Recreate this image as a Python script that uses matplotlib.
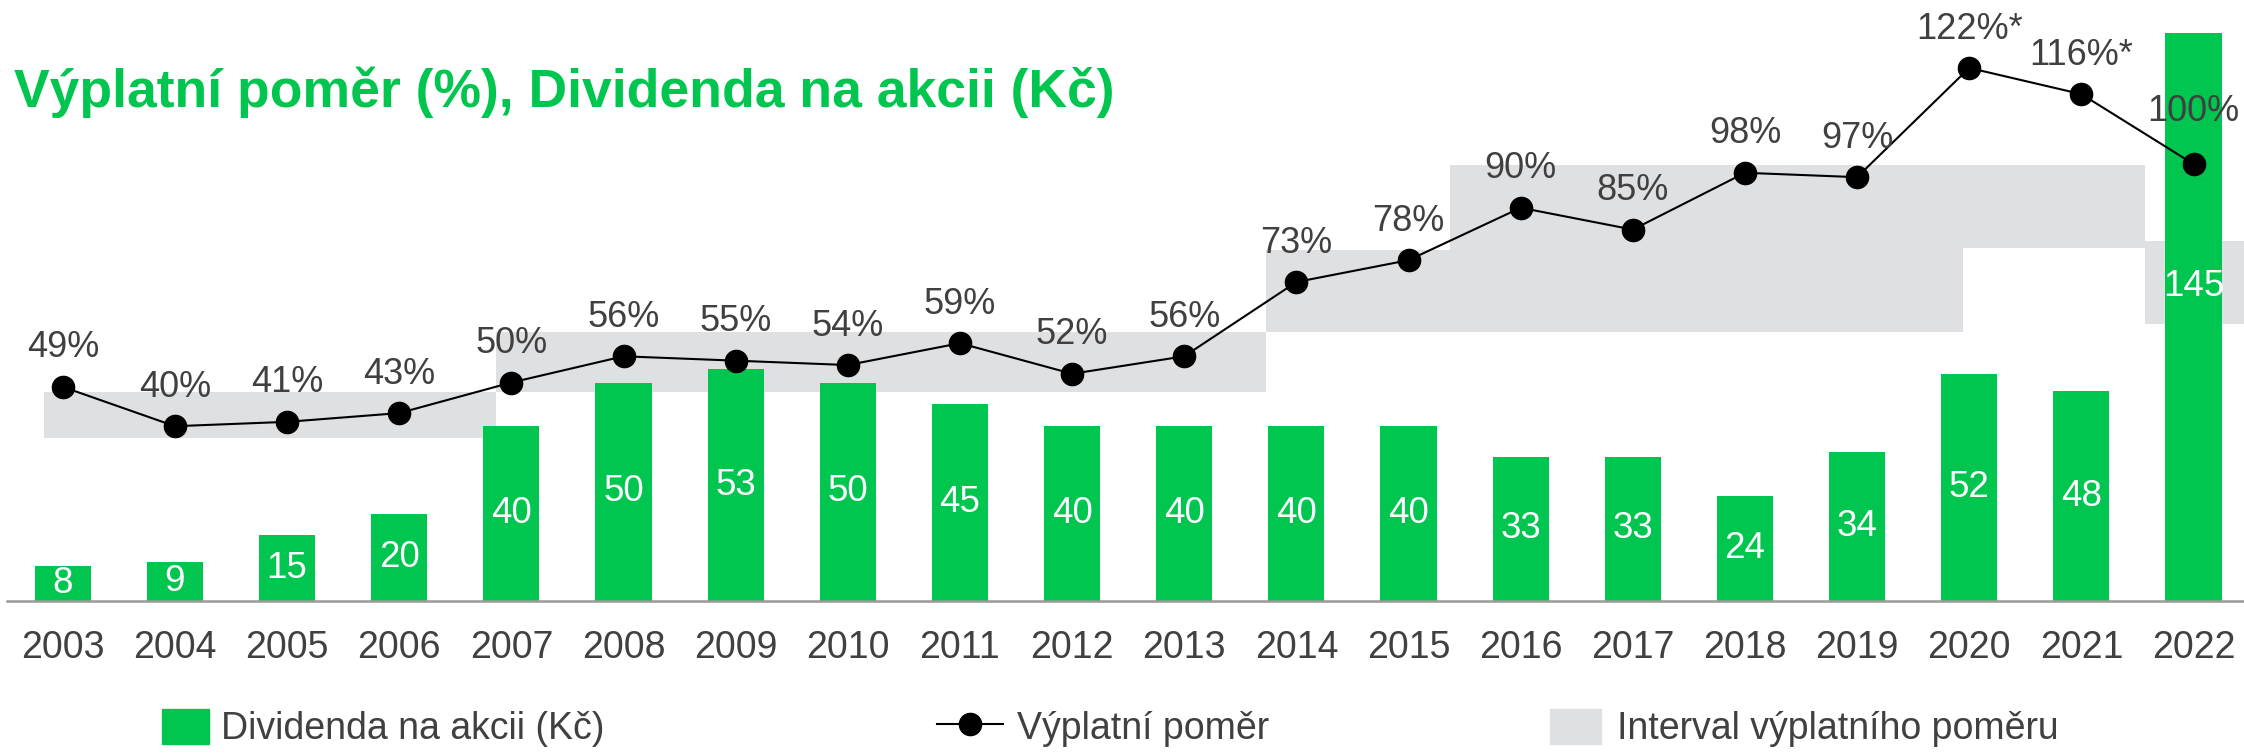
import matplotlib.pyplot as plt
from matplotlib.patches import Patch
from matplotlib.lines import Line2D

plt.rcParams['font.family'] = ['Liberation Sans', 'DejaVu Sans']

# data
years = [str(y) for y in range(2003, 2023)]
dividend = [8, 9, 15, 20, 40, 50, 53, 50, 45, 40, 40, 40, 40, 33, 33, 24, 34, 52, 48, 145]
payout = [49, 40, 41, 43, 50, 56, 55, 54, 59, 52, 56, 73, 78, 90, 85, 98, 97, 122, 116, 100]
payout_note = ['', '', '', '', '', '', '', '', '', '', '', '', '', '', '', '', '', '*', '*', '']

# grey payout interval bands (x in bar index units, y in %)
band_start = [-0.17, 3.86, 10.73, 12.37, 16.94, 18.57]
band_end = [3.86, 10.73, 12.37, 16.94, 18.57, 19.6]
band_low = [37.4, 47.9, 61.5, 61.5, 80.8, 63.5]
band_high = [47.9, 61.5, 80.4, 99.8, 99.8, 82.3]

green = '#00C650'
grey = '#DFE0E2'
text_col = '#404040'

fig = plt.figure(figsize=(22.44, 7.53), dpi=100)
ax = fig.add_axes([0.003, 0.2019, 0.997, 0.7543])

x = list(range(len(years)))

for s, e, lo, hi in zip(band_start, band_end, band_low, band_high):
    ax.fill_between([s, e], lo, hi, color=grey, lw=0, zorder=1)

bars = ax.bar(x, dividend, width=0.5, color=green, zorder=2)
for i, (b, v) in enumerate(zip(bars, dividend)):
    ypos = v / 2 if v < 130 else 72
    ax.text(i, ypos, str(v), ha='center', va='center', color='white',
            fontsize=26.5, zorder=5)

ax.plot(x, payout, color='black', lw=1.5, marker='o', markersize=16, zorder=4)
for i, (p, n) in enumerate(zip(payout, payout_note)):
    off = 38 if p == 100 else 28
    ax.annotate(f'{p}%{n}', (i, p), xytext=(0, off), textcoords='offset points',
                ha='center', va='center', fontsize=26, color=text_col, zorder=6)

ax.set_xlim(-0.5, 19.45)
ax.set_ylim(0, 130)
ax.set_xticks(x)
ax.set_xticklabels(years, fontsize=27, color=text_col)
ax.tick_params(axis='x', length=0, pad=21)
ax.set_yticks([])
for side in ['top', 'left', 'right']:
    ax.spines[side].set_visible(False)
ax.spines['bottom'].set_color('#999999')
ax.spines['bottom'].set_linewidth(1.8)
ax.spines['bottom'].set_zorder(3)

fig.text(14 / 2244, 1 - 106.7 / 753, 'Výplatní poměr (%), Dividenda na akcii (Kč)',
         fontsize=38.5, fontweight='bold', color=green, va='baseline')

# legend, three entries spread across the bottom
leg_y = 1 - 728 / 753
entries = [
    (Patch(color=green), 'Dividenda na akcii (Kč)', 162, 1.25, 0.33),
    (Line2D([], [], color='black', lw=1.5, marker='o', markersize=16), 'Výplatní poměr', 937, 1.75, 0.38),
    (Patch(color=grey), 'Interval výplatního poměru', 1550, 1.35, 0.45),
]
for h, lab, px, hl, tp in entries:
    fig.legend(handles=[h], labels=[lab], loc='center left',
               bbox_to_anchor=(px / 2244, leg_y), frameon=False, fontsize=27,
               labelcolor=text_col, borderpad=0, borderaxespad=0,
               handlelength=hl, handleheight=1.05, handletextpad=tp)

fig.savefig('out.png', dpi=100)
